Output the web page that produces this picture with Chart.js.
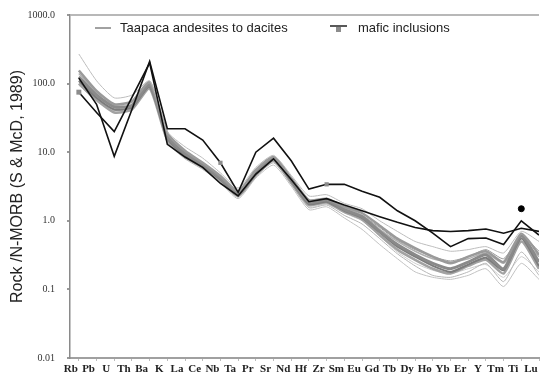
<!DOCTYPE html>
<html>
<head>
<meta charset="utf-8">
<script src="https://cdn.jsdelivr.net/npm/chart.js@4.4.1/dist/chart.umd.min.js"></script>
<style>
html,body{margin:0;padding:0;background:#fff}
#wrap{width:544px;height:379px;position:relative}
</style>
</head>
<body>
<div id="wrap"><canvas id="spider"></canvas></div>
<script>
// element order along the x axis
const elements = ["Rb","Pb","U","Th","Ba","K","La","Ce","Nb","Ta","Pr","Sr","Nd","Hf","Zr","Sm","Eu","Gd","Tb","Dy","Ho","Yb","Er","Y","Tm","Ti","Lu"]
const yTicks = [0.01, 0.1, 1, 10, 100, 1000]
const seriesNames = ["Taapaca andesites to dacites", "mafic inclusions"]

// Taapaca andesites to dacites, N-MORB normalised
const andesite1 = [270,110,62,68,110,20,12,8.2,5,3.0,6,9,4.6,2.3,2.4,1.8,1.5,1.0,0.7,0.5,0.42,0.36,0.38,0.42,0.34,0.7,0.5]
const andesite2 = [155,78,50,55,105,19,10.5,7,4.5,2.7,5.5,8.5,4.2,2.0,2.1,1.6,1.3,0.85,0.55,0.4,0.3,0.24,0.3,0.36,0.25,0.65,0.32]
const andesite3 = [125,68,46,48,95,17,9.5,6.5,4.2,2.5,5,8.3,4,1.85,2.0,1.45,1.15,0.7,0.45,0.32,0.24,0.2,0.25,0.32,0.2,0.6,0.25]
const andesite4 = [110,62,42,45,90,16,9,6.2,4,2.4,4.8,8,3.8,1.75,1.9,1.4,1.1,0.68,0.42,0.3,0.22,0.18,0.23,0.29,0.19,0.55,0.22]
const andesite5 = [100,58,38,42,85,15,8.5,6,3.8,2.3,4.6,7.5,3.6,1.7,1.85,1.35,1.05,0.62,0.38,0.27,0.2,0.17,0.22,0.27,0.17,0.5,0.2]
const andesite6 = [140,72,45,50,100,18,10,7,4.4,2.6,5.2,8.6,4.1,1.9,2.05,1.55,1.2,0.75,0.5,0.36,0.28,0.25,0.28,0.34,0.24,0.5,0.3]
const andesite7 = [95,55,40,44,88,14,8,5.6,3.6,2.1,4.2,6.5,3.2,1.45,1.6,1.1,0.75,0.45,0.28,0.18,0.15,0.14,0.16,0.2,0.11,0.24,0.14]
const andesite8 = [120,66,44,47,92,15.5,8.8,6,3.9,2.2,4.4,7,3.4,1.55,1.7,1.2,0.9,0.55,0.33,0.22,0.16,0.15,0.18,0.24,0.13,0.35,0.16]
const andesite9 = [105,60,41,46,95,16.5,9.2,6.4,4.1,2.5,5,8,3.9,1.8,1.95,1.5,1.2,0.8,0.52,0.38,0.3,0.26,0.3,0.38,0.28,0.6,0.36]
const andesite10 = [130,70,48,52,98,17.5,9.8,6.8,4.3,2.6,5.1,8.2,3.9,1.6,1.75,1.3,1.0,0.6,0.35,0.24,0.19,0.17,0.2,0.23,0.15,0.3,0.18]

// mafic inclusions
const mafic1 = [120,50,8.7,42,210,22,22,15,7,2.6,10,16,7.5,2.9,3.4,3.4,2.7,2.2,1.4,1.0,0.66,0.42,0.55,0.56,0.45,1.0,0.62]
const mafic2 = [75,38,20,63,200,13,8.5,6,3.5,2.3,4.8,8,4,1.9,2.1,1.7,1.4,1.15,0.95,0.8,0.72,0.7,0.72,0.76,0.66,0.78,0.7]
const maficTi = [{el: "Ti", value: 1.5}]

function toPoints(values){
  return values.map((v, i) => ({x: i, y: v}))
}

function markerSizes(indices, size){
  return elements.map((el, i) => indices.includes(i) ? size : 0)
}

const andesiteStyles = [
  {data: andesite1, color: "#bdbdbd", width: 1},
  {data: andesite2, color: "#9a9a9a", width: 2.5},
  {data: andesite3, color: "#8a8a8a", width: 3},
  {data: andesite4, color: "#7c7c7c", width: 2},
  {data: andesite5, color: "#a2a2a2", width: 2.5},
  {data: andesite6, color: "#b0b0b0", width: 1.5},
  {data: andesite7, color: "#c2c2c2", width: 1},
  {data: andesite8, color: "#b6b6b6", width: 1},
  {data: andesite9, color: "#999999", width: 1},
  {data: andesite10, color: "#cdcdcd", width: 1}
]

const datasets = [
  {
    label: seriesNames[1],
    data: toPoints(mafic1),
    borderColor: "#111",
    borderWidth: 1.6,
    pointStyle: "rect",
    pointRadius: markerSizes([8, 14], 3),
    pointBackgroundColor: "#8c8c8c",
    pointBorderWidth: 0,
    tension: 0
  },
  {
    label: seriesNames[1],
    data: toPoints(mafic2),
    borderColor: "#111",
    borderWidth: 1.6,
    pointStyle: "rect",
    pointRadius: markerSizes([0], 3.5),
    pointBackgroundColor: "#8c8c8c",
    pointBorderWidth: 0,
    tension: 0
  },
  {
    label: seriesNames[1],
    data: maficTi.map(p => ({x: elements.indexOf(p.el), y: p.value})),
    showLine: false,
    pointRadius: 3,
    pointBackgroundColor: "#000",
    pointBorderColor: "#000"
  }
].concat(andesiteStyles.map(s => ({
  label: seriesNames[0],
  data: toPoints(s.data),
  borderColor: s.color,
  borderWidth: s.width,
  pointRadius: 0,
  tension: 0.2
})))

// key drawn inside the plot, near the top
const plotKey = {
  id: "plotKey",
  afterDraw(chart){
    const ctx = chart.ctx
    const area = chart.chartArea
    const y = area.top + 13
    ctx.save()
    ctx.font = '13px "Liberation Sans", Arial, sans-serif'
    ctx.fillStyle = "#222"
    ctx.textBaseline = "middle"

    ctx.strokeStyle = "#444"
    ctx.lineWidth = 1
    ctx.beginPath()
    ctx.moveTo(area.left + 25, y)
    ctx.lineTo(area.left + 41, y)
    ctx.stroke()
    ctx.fillText(seriesNames[0], area.left + 50, y)

    ctx.strokeStyle = "#222"
    ctx.lineWidth = 1.5
    ctx.beginPath()
    ctx.moveTo(area.left + 260, y - 2)
    ctx.lineTo(area.left + 277, y - 2)
    ctx.stroke()
    ctx.fillStyle = "#8c8c8c"
    ctx.fillRect(area.left + 266, y - 1, 5, 5)
    ctx.fillStyle = "#222"
    ctx.fillText(seriesNames[1], area.left + 288, y)
    ctx.restore()
  }
}

new Chart(document.getElementById("spider"), {
  type: "line",
  data: {datasets},
  plugins: [plotKey],
  options: {
    responsive: true,
    maintainAspectRatio: false,
    animation: false,
    devicePixelRatio: 1,
    layout: {padding: {top: 15, right: 3, left: 0, bottom: 0}},
    plugins: {
      legend: {display: false},
      tooltip: {enabled: false}
    },
    scales: {
      x: {
        type: "linear",
        min: -0.5,
        max: 26,
        afterBuildTicks(scale){
          scale.ticks = elements.map((el, i) => ({value: i}))
        },
        afterFit(scale){
          scale.height = 21
          scale.paddingLeft = 0
          scale.paddingRight = 0
        },
        ticks: {
          autoSkip: false,
          maxRotation: 0,
          padding: 2,
          labelOffset: -8,
          color: "#222",
          font: {family: '"Liberation Serif", "Times New Roman", serif', size: 11, weight: "bold"},
          callback: (v) => elements[v]
        },
        grid: {drawOnChartArea: false, tickLength: 3, color: "#bbb"},
        border: {color: "#a0a0a0", width: 2}
      },
      y: {
        type: "logarithmic",
        min: 0.01,
        max: 1000,
        afterBuildTicks(scale){
          scale.ticks = yTicks.map(v => ({value: v}))
        },
        afterFit(scale){
          scale.width = 70
          scale.paddingTop = 0
          scale.paddingBottom = 0
        },
        ticks: {
          padding: 12,
          color: "#333",
          font: {family: '"Liberation Serif", "Times New Roman", serif', size: 10},
          callback: (v) => v >= 1 ? v.toFixed(1) : String(v)
        },
        grid: {
          drawOnChartArea: true,
          tickLength: 3,
          tickColor: "#999",
          lineWidth: 2,
          color: (c) => c.tick && c.tick.value === 1000 ? "#b8b8b8" : "rgba(0,0,0,0)"
        },
        border: {color: "#8a8a8a", width: 1.5},
        title: {
          display: true,
          text: "Rock /N-MORB (S & McD, 1989)",
          color: "#222",
          padding: {top: 8, bottom: 0},
          font: {family: '"Liberation Sans", Arial, sans-serif', size: 16}
        }
      }
    }
  }
})
</script>
</body>
</html>
